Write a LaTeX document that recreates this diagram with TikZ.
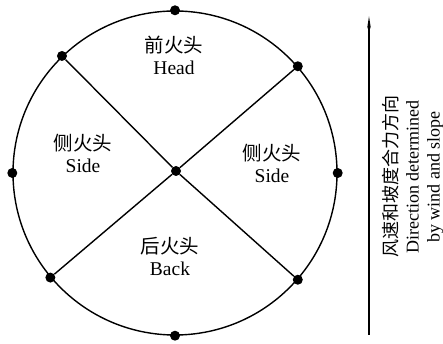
\documentclass[tikz,border=0pt]{standalone}
\usepackage{fontspec}
\setmainfont{Liberation Serif}
\newfontfamily\cjk{Noto Sans CJK SC}
\usetikzlibrary{arrows.meta}

\begin{document}
\begin{tikzpicture}[x=1pt, y=1pt,
  rim/.style={circle, draw, line width=1.4pt, minimum size=324pt, inner sep=0pt},
  dot/.style={circle, fill, minimum size=10pt, inner sep=0pt},
  ray/.style={line width=1.4pt},
  zone/.style={align=center, font=\fontsize{19.5}{22}\selectfont},
  note/.style={align=center, font=\fontsize{18}{21}\selectfont},
  arrow/.style={-{Stealth[length=12pt, width=3.5pt]}, line width=1.6pt}
]
\useasboundingbox (0,0) rectangle (443,344);

%% Fire perimeter with its points
\node[rim] (rim) at (175,171) {};
\node[dot] (c) at (176,173) {};
\foreach \a/\n in {90/top, 180/left, 0/right, 270/bottom,
                   134.5/ul, 41.7/ur, 220.3/ll, 319.2/lr}
  \node[dot] (\n) at (rim.\a) {};

\foreach \n in {ul, ur, ll, lr}
  \draw[ray] (c) -- (\n);

%% Zones
\node[zone] (head) at (174,289) {{\cjk 前火头}\\Head};
\node[zone] (sidel) at (83,191) {{\cjk 侧火头}\\Side};
\node[zone] (sider) at (272,181) {{\cjk 侧火头}\\Side};
\node[zone] (back) at (170,88) {{\cjk 后火头}\\Back};

%% Spread direction
\coordinate (tail) at (369,9);
\coordinate (tip) at (369,328);
\draw[arrow] (tail) -- (tip);
\node[note, rotate=90] (dir) at (413,167)
  {{\cjk 风速和坡度合力方向}\\Direction determined\\by wind and slope};

\end{tikzpicture}
\end{document}
